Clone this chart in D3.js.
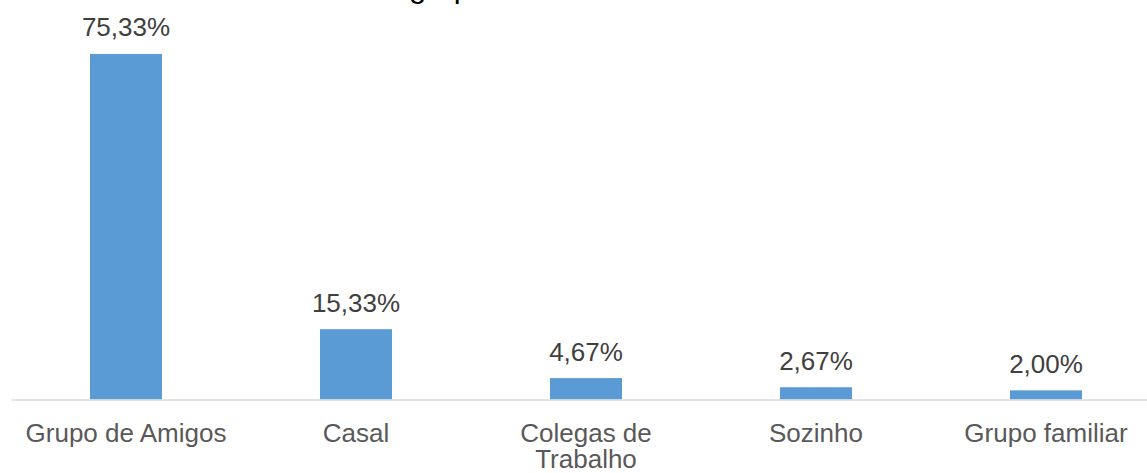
<!DOCTYPE html>
<html>
<head>
<meta charset="utf-8">
<script src="https://cdn.jsdelivr.net/npm/d3@7"></script>
<style>
  body { margin: 0; background: #fff; }
  svg { display: block; font-family: "Liberation Sans", Arial, sans-serif; }
</style>
</head>
<body>
<div id="chart"></div>
<script>
var categories = ["Grupo de Amigos", "Casal", "Colegas de Trabalho", "Sozinho", "Grupo familiar"];
var values = [75.33, 15.33, 4.67, 2.67, 2.00];
var valueLabels = ["75,33%", "15,33%", "4,67%", "2,67%", "2,00%"];
var titleText = "Tamanho do grupo";

var width = 1147,
    height = 473,
    baseY = 399.5;

var svg = d3.select("#chart").append("svg")
    .attr("width", width)
    .attr("height", height);

var x = d3.scaleBand()
    .domain(categories)
    .range([11, 1161])
    .paddingInner(0.687)
    .paddingOuter(0.3435);

var y = d3.scaleLinear()
    .domain([0, 80])
    .range([baseY, baseY - 80 * 4.587]);

// title sits mostly above the visible area, only descenders show
var title = svg.append("text")
    .attr("y", -3.5)
    .attr("font-size", 31)
    .attr("fill", "#000")
    .text(titleText);
var probe = svg.append("text").attr("font-size", 31).text("grupo");
var grupoW = probe.node().getComputedTextLength();
probe.remove();
title.attr("text-anchor", "end").attr("x", 409 + grupoW);

// bars
svg.selectAll(".bar")
    .data(values)
  .enter().append("rect")
    .attr("class", "bar")
    .attr("x", function(d, i) { return x(categories[i]); })
    .attr("width", x.bandwidth())
    .attr("y", function(d) { return y(d); })
    .attr("height", function(d) { return y(0) - y(d); })
    .style("fill", "#5b9bd5");

// value labels
svg.selectAll(".valLabel")
    .data(values)
  .enter().append("text")
    .attr("class", "valLabel")
    .attr("x", function(d, i) { return x(categories[i]) + x.bandwidth() / 2; })
    .attr("y", function(d) { return y(d) - 17.5; })
    .attr("text-anchor", "middle")
    .attr("font-size", 26)
    .attr("fill", "#404040")
    .text(function(d, i) { return valueLabels[i]; });

// x axis
var xAxis = d3.axisBottom(x).tickSize(0).tickPadding(0);
var gx = svg.append("g")
    .attr("transform", "translate(0," + baseY + ")")
    .call(xAxis);

gx.select(".domain")
    .attr("stroke", "#d9d9d9")
    .attr("stroke-width", 1.3);

gx.selectAll(".tick text")
    .attr("font-size", 26)
    .attr("font-family", "Liberation Sans, Arial, sans-serif")
    .attr("fill", "#595959")
    .call(wrap, 220);

function wrap(texts, maxW) {
  texts.each(function() {
    var text = d3.select(this),
        words = text.text().split(" "),
        lines = [], line = [];
    text.text(null).attr("dy", null).attr("y", null);
    var tmp = text.append("tspan");
    words.forEach(function(w) {
      line.push(w);
      tmp.text(line.join(" "));
      if (tmp.node().getComputedTextLength() > maxW && line.length > 1) {
        line.pop();
        lines.push(line.join(" "));
        line = [w];
      }
    });
    lines.push(line.join(" "));
    tmp.remove();
    lines.forEach(function(l, k) {
      text.append("tspan")
        .attr("x", 0)
        .attr("y", 42.2 + k * 26.5)
        .text(l);
    });
  });
}
</script>
</body>
</html>
